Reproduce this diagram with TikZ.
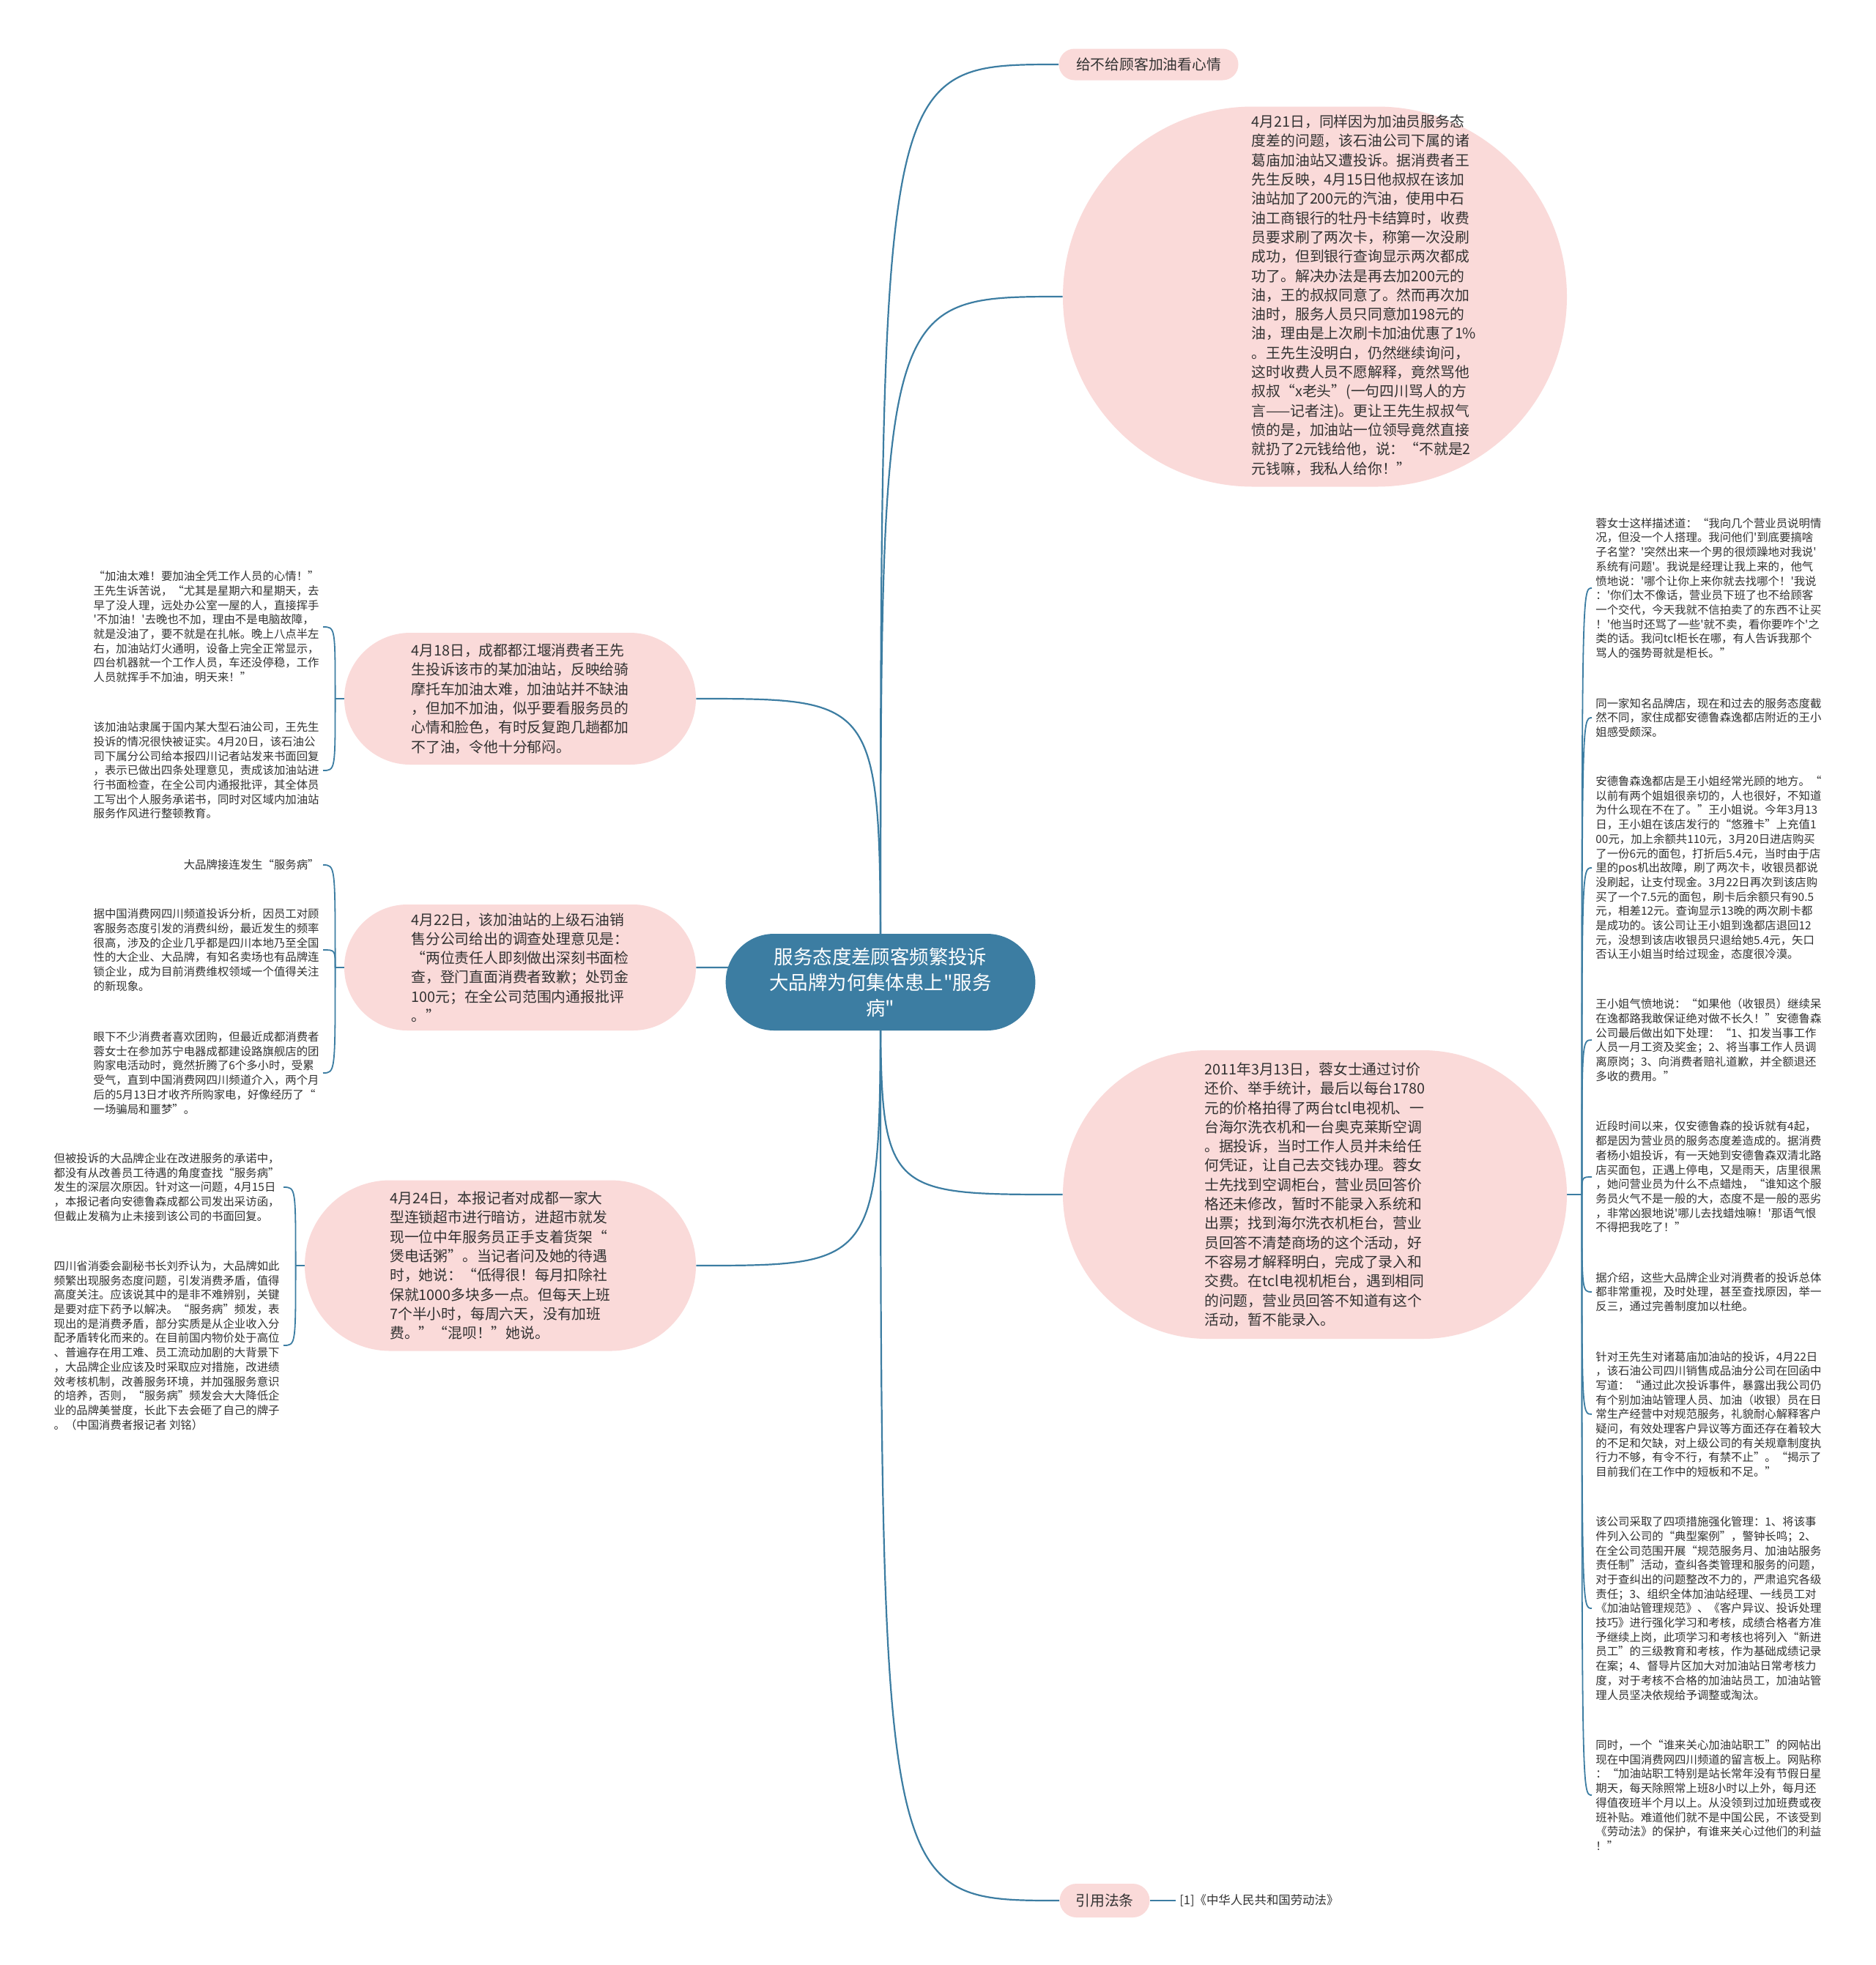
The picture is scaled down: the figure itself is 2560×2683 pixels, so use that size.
\documentclass[tikz,border=0pt]{standalone}
\usepackage{fontspec}
\usetikzlibrary{shapes.misc,backgrounds}
\newfontfamily\cjk{Noto Sans CJK SC}

\definecolor{rootblue}{RGB}{60,125,162}
\definecolor{topicpink}{RGB}{250,218,217}
\definecolor{textgray}{RGB}{50,50,50}

\tikzset{
  root/.style={rounded rectangle, fill=rootblue, text=white, align=center,
    font=\cjk\fontsize{13.2}{17.5}\selectfont},
  pill/.style={rounded rectangle, fill=topicpink, inner sep=0pt},
  topic/.style={pill, text=textgray, align=left,
    font=\cjk\fontsize{9.9}{13.15}\selectfont},
  topictext/.style={text=textgray, align=left, inner sep=0pt,
    font=\cjk\fontsize{9.9}{13.15}\selectfont},
  note/.style={text=textgray, align=left, inner sep=2.5pt,
    font=\cjk\fontsize{7.7}{9.85}\selectfont},
  branch/.style={draw=rootblue, line width=1.1pt},
  brace/.style={draw=rootblue, line width=0.9pt},
}

\begin{document}
\begin{tikzpicture}[x=0.5pt,y=-0.5pt]
    \useasboundingbox (0,0) rectangle (2560,2683);

    % Central topic
    \node[root, minimum width=218pt, minimum height=66pt] (root) at (1202,1341)
        {服务态度差顾客频繁投诉\\大品牌为何集体患上"服务\\病"};

    % Right side topics
    \node[topic, align=center, minimum width=122.5pt, minimum height=21.5pt] (give) at (1568,88)
        {给不给顾客加油看心情};
    \node[pill, minimum width=344pt, minimum height=259.5pt] (n21) at (1795,405) {};
    \node[topictext] (t21) at (1862,403)
        {4月21日，同样因为加油员服务态\\
         度差的问题，该石油公司下属的诸\\
         葛庙加油站又遭投诉。据消费者王\\
         先生反映，4月15日他叔叔在该加\\
         油站加了200元的汽油，使用中石\\
         油工商银行的牡丹卡结算时，收费\\
         员要求刷了两次卡，称第一次没刷\\
         成功，但到银行查询显示两次都成\\
         功了。解决办法是再去加200元的\\
         油，王的叔叔同意了。然而再次加\\
         油时，服务人员只同意加198元的\\
         油，理由是上次刷卡加油优惠了1\%\\
         。王先生没明白，仍然继续询问，\\
         这时收费人员不愿解释，竟然骂他\\
         叔叔“x老头”(一句四川骂人的方\\
         言——记者注)。更让王先生叔叔气\\
         愤的是，加油站一位领导竟然直接\\
         就扔了2元钱给他，说：“不就是2\\
         元钱嘛，我私人给你！”};
    \node[topic, minimum width=344pt, minimum height=197pt] (n13) at (1795,1631)
        {2011年3月13日，蓉女士通过讨价\\
         还价、举手统计，最后以每台1780\\
         元的价格拍得了两台tcl电视机、一\\
         台海尔洗衣机和一台奥克莱斯空调\\
         。据投诉，当时工作人员并未给任\\
         何凭证，让自己去交钱办理。蓉女\\
         士先找到空调柜台，营业员回答价\\
         格还未修改，暂时不能录入系统和\\
         出票；找到海尔洗衣机柜台，营业\\
         员回答不清楚商场的这个活动，好\\
         不容易才解释明白，完成了录入和\\
         交费。在tcl电视机柜台，遇到相同\\
         的问题，营业员回答不知道有这个\\
         活动，暂不能录入。};
    \node[topic, align=center, minimum width=61.5pt, minimum height=23pt] (law) at (1508,2595)
        {引用法条};
    \node[note, anchor=west, font=\cjk\fontsize{8.2}{10}\selectfont] (lawref) at (1605,2595)
        {[1]《中华人民共和国劳动法》};

    % Left side topics
    \node[topic, minimum width=240pt, minimum height=90pt] (n18) at (710,954)
        {4月18日，成都都江堰消费者王先\\
         生投诉该市的某加油站，反映给骑\\
         摩托车加油太难，加油站并不缺油\\
         ，但加不加油，似乎要看服务员的\\
         心情和脸色，有时反复跑几趟都加\\
         不了油，令他十分郁闷。};
    \node[topic, minimum width=240pt, minimum height=86pt] (n22) at (710,1321)
        {4月22日，该加油站的上级石油销\\
         售分公司给出的调查处理意见是：\\
         “两位责任人即刻做出深刻书面检\\
         查，登门直面消费者致歉；处罚金\\
         100元；在全公司范围内通报批评\\
         。”};
    \node[topic, minimum width=267pt, minimum height=116.5pt] (n24) at (683,1728)
        {4月24日，本报记者对成都一家大\\
         型连锁超市进行暗访，进超市就发\\
         现一位中年服务员正手支着货架“\\
         煲电话粥”。当记者问及她的待遇\\
         时，她说：“低得很！每月扣除社\\
         保就1000多块多一点。但每天上班\\
         7个半小时，每周六天，没有加班\\
         费。”“混呗！”她说。};

    % Notes of the 4月18日 topic
    \node[note, anchor=east] (l1) at (441,856)
        {“加油太难！要加油全凭工作人员的心情！”\\
         王先生诉苦说，“尤其是星期六和星期天，去\\
         早了没人理，远处办公室一屋的人，直接挥手\\
         '不加油！'去晚也不加，理由不是电脑故障，\\
         就是没油了，要不就是在扎帐。晚上八点半左\\
         右，加油站灯火通明，设备上完全正常显示，\\
         四台机器就一个工作人员，车还没停稳，工作\\
         人员就挥手不加油，明天来！”};
    \node[note, anchor=east] (l2) at (441,1052)
        {该加油站隶属于国内某大型石油公司，王先生\\
         投诉的情况很快被证实。4月20日，该石油公\\
         司下属分公司给本报四川记者站发来书面回复\\
         ，表示已做出四条处理意见，责成该加油站进\\
         行书面检查，在全公司内通报批评，其全体员\\
         工写出个人服务承诺书，同时对区域内加油站\\
         服务作风进行整顿教育。};

    % Notes of the 4月22日 topic
    \node[note, anchor=east] (l3) at (441,1181)
        {大品牌接连发生“服务病”};
    \node[note, anchor=east] (l4) at (441,1297)
        {据中国消费网四川频道投诉分析，因员工对顾\\
         客服务态度引发的消费纠纷，最近发生的频率\\
         很高，涉及的企业几乎都是四川本地乃至全国\\
         性的大企业、大品牌，有知名卖场也有品牌连\\
         锁企业，成为目前消费维权领域一个值得关注\\
         的新现象。};
    \node[note, anchor=east] (l5) at (441,1465)
        {眼下不少消费者喜欢团购，但最近成都消费者\\
         蓉女士在参加苏宁电器成都建设路旗舰店的团\\
         购家电活动时，竟然折腾了6个多小时，受累\\
         受气，直到中国消费网四川频道介入，两个月\\
         后的5月13日才收齐所购家电，好像经历了“\\
         一场骗局和噩梦”。};

    % Notes of the 4月24日 topic
    \node[note, anchor=east] (l6) at (387,1621)
        {但被投诉的大品牌企业在改进服务的承诺中，\\
         都没有从改善员工待遇的角度查找“服务病”\\
         发生的深层次原因。针对这一问题，4月15日\\
         ，本报记者向安德鲁森成都公司发出采访函，\\
         但截止发稿为止未接到该公司的书面回复。};
    \node[note, anchor=east] (l7) at (387,1837)
        {四川省消委会副秘书长刘乔认为，大品牌如此\\
         频繁出现服务态度问题，引发消费矛盾，值得\\
         高度关注。应该说其中的是非不难辨别，关键\\
         是要对症下药予以解决。“服务病”频发，表\\
         现出的是消费矛盾，部分实质是从企业收入分\\
         配矛盾转化而来的。在目前国内物价处于高位\\
         、普遍存在用工难、员工流动加剧的大背景下\\
         ，大品牌企业应该及时采取应对措施，改进绩\\
         效考核机制，改善服务环境，并加强服务意识\\
         的培养，否则，“服务病”频发会大大降低企\\
         业的品牌美誉度，长此下去会砸了自己的牌子\\
         。（中国消费者报记者 刘铭）};

    % Notes of the 2011年3月13日 topic
    \node[note, anchor=west] (r1) at (2173,803)
        {蓉女士这样描述道：“我向几个营业员说明情\\
         况，但没一个人搭理。我问他们'到底要搞啥\\
         子名堂？'突然出来一个男的很烦躁地对我说'\\
         系统有问题'。我说是经理让我上来的，他气\\
         愤地说：'哪个让你上来你就去找哪个！'我说\\
         ：'你们太不像话，营业员下班了也不给顾客\\
         一个交代，今天我就不信拍卖了的东西不让买\\
         ！'他当时还骂了一些'就不卖，看你要咋个'之\\
         类的话。我问tcl柜长在哪，有人告诉我那个\\
         骂人的强势哥就是柜长。”};
    \node[note, anchor=west] (r2) at (2173,980)
        {同一家知名品牌店，现在和过去的服务态度截\\
         然不同，家住成都安德鲁森逸都店附近的王小\\
         姐感受颇深。};
    \node[note, anchor=west] (r3) at (2173,1185)
        {安德鲁森逸都店是王小姐经常光顾的地方。“\\
         以前有两个姐姐很亲切的，人也很好，不知道\\
         为什么现在不在了。”王小姐说。今年3月13\\
         日，王小姐在该店发行的“悠雅卡”上充值1\\
         00元，加上余额共110元，3月20日进店购买\\
         了一份6元的面包，打折后5.4元，当时由于店\\
         里的pos机出故障，刷了两次卡，收银员都说\\
         没刷起，让支付现金。3月22日再次到该店购\\
         买了一个7.5元的面包，刷卡后余额只有90.5\\
         元，相差12元。查询显示13晚的两次刷卡都\\
         是成功的。该公司让王小姐到逸都店退回12\\
         元，没想到该店收银员只退给她5.4元，矢口\\
         否认王小姐当时给过现金，态度很冷漠。};
    \node[note, anchor=west] (r4) at (2173,1420)
        {王小姐气愤地说：“如果他（收银员）继续呆\\
         在逸都路我敢保证绝对做不长久！”安德鲁森\\
         公司最后做出如下处理：“1、扣发当事工作\\
         人员一月工资及奖金；2、将当事工作人员调\\
         离原岗；3、向消费者赔礼道歉，并全额退还\\
         多收的费用。”};
    \node[note, anchor=west] (r5) at (2173,1607)
        {近段时间以来，仅安德鲁森的投诉就有4起，\\
         都是因为营业员的服务态度差造成的。据消费\\
         者杨小姐投诉，有一天她到安德鲁森双清北路\\
         店买面包，正遇上停电，又是雨天，店里很黑\\
         ，她问营业员为什么不点蜡烛，“谁知这个服\\
         务员火气不是一般的大，态度不是一般的恶劣\\
         ，非常凶狠地说'哪儿去找蜡烛嘛！'那语气恨\\
         不得把我吃了！”};
    \node[note, anchor=west] (r6) at (2173,1764)
        {据介绍，这些大品牌企业对消费者的投诉总体\\
         都非常重视，及时处理，甚至查找原因，举一\\
         反三，通过完善制度加以杜绝。};
    \node[note, anchor=west] (r7) at (2173,1931)
        {针对王先生对诸葛庙加油站的投诉，4月22日\\
         ，该石油公司四川销售成品油分公司在回函中\\
         写道：“通过此次投诉事件，暴露出我公司仍\\
         有个别加油站管理人员、加油（收银）员在日\\
         常生产经营中对规范服务，礼貌耐心解释客户\\
         疑问，有效处理客户异议等方面还存在着较大\\
         的不足和欠缺，对上级公司的有关规章制度执\\
         行力不够，有令不行，有禁不止”。“揭示了\\
         目前我们在工作中的短板和不足。”};
    \node[note, anchor=west] (r8) at (2173,2196)
        {该公司采取了四项措施强化管理：1、将该事\\
         件列入公司的“典型案例”，警钟长鸣；2、\\
         在全公司范围开展“规范服务月、加油站服务\\
         责任制”活动，查纠各类管理和服务的问题，\\
         对于查纠出的问题整改不力的，严肃追究各级\\
         责任；3、组织全体加油站经理、一线员工对\\
         《加油站管理规范》、《客户异议、投诉处理\\
         技巧》进行强化学习和考核，成绩合格者方准\\
         予继续上岗，此项学习和考核也将列入“新进\\
         员工”的三级教育和考核，作为基础成绩记录\\
         在案；4、督导片区加大对加油站日常考核力\\
         度，对于考核不合格的加油站员工，加油站管\\
         理人员坚决依规给予调整或淘汰。};
    \node[note, anchor=west] (r9) at (2173,2451)
        {同时，一个“谁来关心加油站职工”的网帖出\\
         现在中国消费网四川频道的留言板上。网贴称\\
         ：“加油站职工特别是站长常年没有节假日星\\
         期天，每天除照常上班8小时以上外，每月还\\
         得值夜班半个月以上。从没领到过加班费或夜\\
         班补贴。难道他们就不是中国公民，不该受到\\
         《劳动法》的保护，有谁来关心过他们的利益\\
         ！”};

    % Junctions of the braces
    \coordinate (j18) at ([xshift=-6pt]n18.west);
    \coordinate (j22) at ([xshift=-6pt]n22.west);
    \coordinate (j24) at ([xshift=-6pt]n24.west);
    \coordinate (j13) at ([xshift=10pt]n13.east);

    \begin{scope}[on background layer]
        \fill[white] (0,0) rectangle (2560,2683);
        % Branches from the central topic
        \foreach \t in {give,n21,n13,law}
            \draw[branch] (root.center) .. controls (root.center |- \t.west) .. (\t.west);
        \foreach \t in {n18,n22,n24}
            \draw[branch] (root.center) .. controls (root.center |- \t.east) .. (\t.east);
        \draw[branch] (law.east) -- (lawref.west);
        % Braces to the notes
        \draw[brace] (n18.west) -- (j18);
        \draw[brace] (n22.west) -- (j22);
        \draw[brace] (n24.west) -- (j24);
        \draw[brace] (n13.east) -- (j13);
        \foreach \c in {l1,l2}
            \draw[brace] (j18) .. controls (j18 |- \c.east) .. (\c.east);
        \foreach \c in {l3,l4,l5}
            \draw[brace] (j22) .. controls (j22 |- \c.east) .. (\c.east);
        \foreach \c in {l6,l7}
            \draw[brace] (j24) .. controls (j24 |- \c.east) .. (\c.east);
        \foreach \c in {r1,r2,r3,r4,r5,r6,r7,r8,r9}
            \draw[brace] (j13) .. controls (j13 |- \c.west) .. (\c.west);
    \end{scope}
\end{tikzpicture}
\end{document}
